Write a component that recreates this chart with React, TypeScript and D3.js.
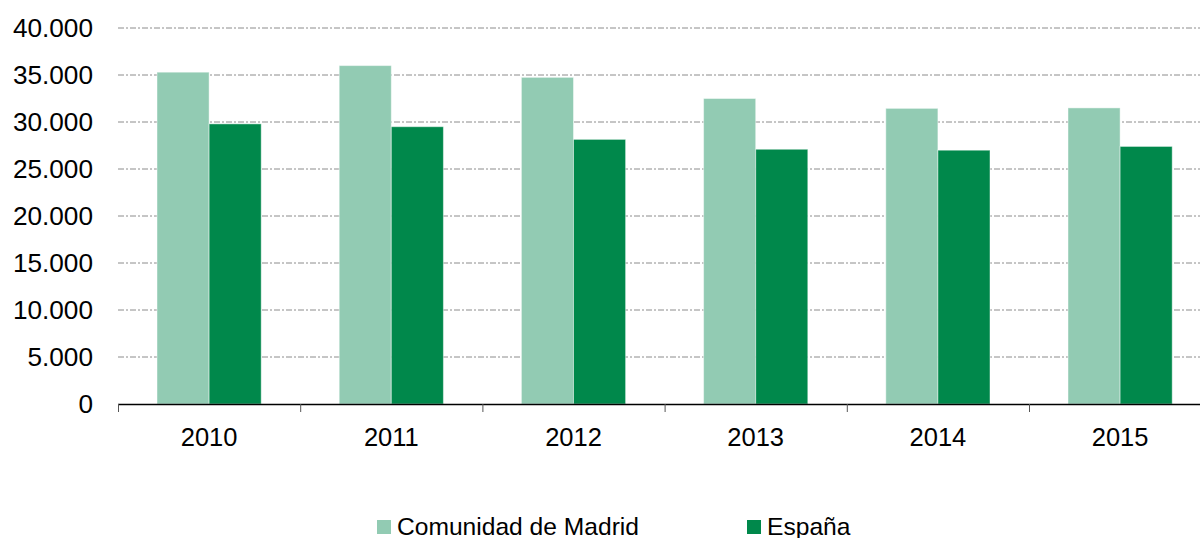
import React from 'react';
import * as d3 from 'd3';

const years = ['2010', '2011', '2012', '2013', '2014', '2015'];
const seriesNames = ['Comunidad de Madrid', 'España'];
const madrid = [35300, 36000, 34750, 32500, 31450, 31500];
const espana = [29800, 29500, 28150, 27100, 27000, 27400];
const yTicks = [0, 5000, 10000, 15000, 20000, 25000, 30000, 35000, 40000];
const colors = ['#92cbb3', '#00884b'];

const width = 1200;
const height = 538;
const left = 118;
const band = 182.2;
const top = 28;
const bottom = 404;

const fmt = (v: number) => d3.format(',')(v).replace(/,/g, '.');

export default function App() {
  const x = d3.scaleBand<string>().domain(years).range([left, left + band * years.length]);
  const xs = d3.scaleBand<string>().domain(seriesNames).range([39, band - 39]);
  const y = d3.scaleLinear().domain([0, 40000]).range([bottom, top]);
  const values = [madrid, espana];
  const font = "'Liberation Sans', Arial, sans-serif";

  return (
    <svg width={width} height={height} style={{ position: 'absolute', left: 0, top: 0, display: 'block' }}>
      <rect width={width} height={height} fill="#fff" />
      {/* gridlines */}
      {yTicks.filter(t => t > 0).map(t => (
        <line key={t} x1={left} x2={width} y1={y(t)} y2={y(t)}
          stroke="#8c8c8c" strokeWidth={1} strokeDasharray="6,2,2,2" />
      ))}
      {/* y labels */}
      {yTicks.map(t => (
        <text key={'l' + t} x={93} y={y(t)} dy="0.36em" textAnchor="end"
          fontFamily={font} fontSize={26.2} fill="#000">{fmt(t)}</text>
      ))}
      {/* bars */}
      {years.map((yr, i) => (
        <g key={yr} transform={`translate(${x(yr)},0)`}>
          {seriesNames.map((s, j) => (
            <rect key={s} x={xs(s)} width={xs.bandwidth()} y={y(values[j][i])}
              height={bottom - y(values[j][i])} fill={colors[j]}
              stroke="rgba(255,255,255,0.45)" strokeWidth={1} />
          ))}
        </g>
      ))}
      {/* x axis */}
      <line x1={left} x2={width} y1={bottom + 0.5} y2={bottom + 0.5} stroke="#000" strokeWidth={1.3} />
      {years.map((yr, i) => (
        <line key={'t' + yr} x1={(x(yr) as number) + 0.5} x2={(x(yr) as number) + 0.5}
          y1={bottom} y2={bottom + 8} stroke="#555" strokeWidth={1} />
      ))}
      {years.map(yr => (
        <text key={'x' + yr} x={(x(yr) as number) + x.bandwidth() / 2} y={446}
          textAnchor="middle" fontFamily={font} fontSize={25.5} fill="#000">{yr}</text>
      ))}
      {/* legend */}
      {seriesNames.map((s, j) => {
        const lx = j === 0 ? 377 : 747;
        return (
          <g key={'lg' + s}>
            <rect x={lx} y={520} width={14} height={14} fill={colors[j]} />
            <text x={lx + 20} y={534.5} fontFamily={font} fontSize={24.6} fill="#000">{s}</text>
          </g>
        );
      })}
    </svg>
  );
}
